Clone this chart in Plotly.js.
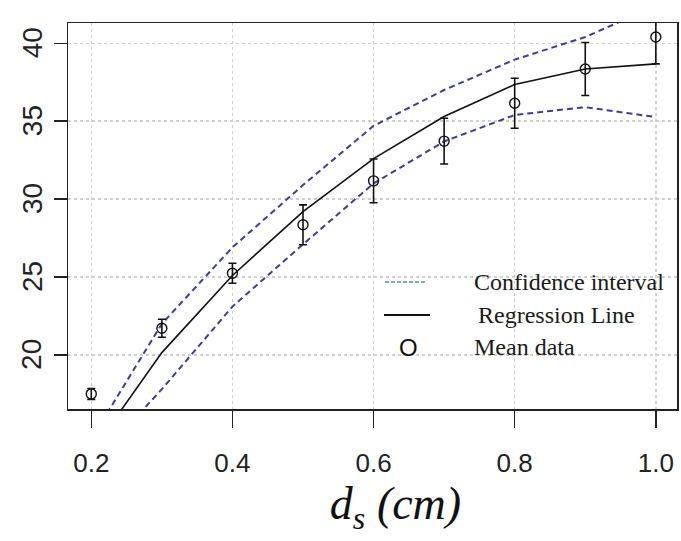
<!DOCTYPE html>
<html>
<head>
<meta charset="utf-8">
<script src="https://cdn.plot.ly/plotly-3.0.1.min.js"></script>
<style>
html,body{margin:0;padding:0;background:#fff;}
#chart{width:681px;height:541px;}
</style>
</head>
<body>
<div id="chart"></div>
<script>
// Data
var xs = [0.2, 0.3, 0.4, 0.5, 0.6, 0.7, 0.8, 0.9, 1.0];
var meanY = [17.5, 21.71, 25.24, 28.35, 31.17, 33.72, 36.15, 38.35, 40.4];
var errY = [0.35, 0.58, 0.64, 1.28, 1.4, 1.47, 1.6, 1.7, 1.72];
var regY = [13.75, 20.15, 25.1, 29.2, 32.6, 35.3, 37.35, 38.35, 38.68];
var upperY = [14.6, 22.0, 26.9, 30.9, 34.7, 37.0, 38.95, 40.4, 42.4];
var lowerY = [12.9, 17.8, 23.1, 27.1, 31.0, 33.7, 35.4, 35.9, 35.26];
var xTicks = [0.2, 0.4, 0.6, 0.8, 1.0];
var xTickText = ["0.2", "0.4", "0.6", "0.8", "1.0"];
var yTicks = [20, 25, 30, 35, 40];
var yTickText = ["20", "25", "30", "35", "40"];
var legendNames = ["Confidence interval", "Regression Line", "Mean data"];

var ciColor = "#3c3c9c";

var traces = [
  {x: xs, y: upperY, mode: "lines", name: legendNames[0],
   line: {color: ciColor, width: 2, dash: "6px,4px"}, showlegend: false},
  {x: xs, y: lowerY, mode: "lines", name: legendNames[0],
   line: {color: ciColor, width: 2, dash: "6px,4px"}, showlegend: false},
  {x: xs, y: regY, mode: "lines", name: legendNames[1],
   line: {color: "#111", width: 1.6}, showlegend: false},
  {x: xs, y: meanY, mode: "markers", name: legendNames[2],
   marker: {symbol: "circle-open", size: 10, color: "#111", line: {width: 1.4, color: "#111"}},
   error_y: {type: "data", array: errY, visible: true, color: "#111", thickness: 1.6, width: 4},
   showlegend: false, cliponaxis: true}
];

function px2x(p){ return (p - 68) / 609; }
function px2y(p){ return (409 - p) / 386; }

var legFont = {family: "Liberation Serif, Times New Roman, serif", size: 24, color: "#1a1a1a"};

// Rotated y tick labels (R style, reading bottom-to-top) placed at the y-axis tick values
var yLabelAnns = yTicks.map(function(v, i){
  return {xref: "paper", yref: "y", x: px2x(32), y: v, xanchor: "center", yanchor: "middle",
          text: yTickText[i], textangle: -90, showarrow: false,
          font: {family: "Liberation Sans, Arial, sans-serif", size: 28, color: "#222"}};
});

var layout = {
  width: 681, height: 541,
  margin: {l: 68, r: 4, t: 23, b: 132, pad: 0},
  paper_bgcolor: "#fff", plot_bgcolor: "#fff",
  showlegend: false,
  xaxis: {
    range: [0.167, 1.030],
    tickvals: xTicks, ticktext: xTickText,
    ticks: "outside", ticklen: 17, tickwidth: 1.5, tickcolor: "#222",
    ticklabelstandoff: 13,
    tickfont: {family: "Liberation Sans Narrow, Arial Narrow, Liberation Sans, Arial, sans-serif", size: 26, color: "#222"},
    showline: true, linecolor: "#222", linewidth: 1.5, mirror: true,
    showgrid: true, gridcolor: "#cfcfcf", gridwidth: 1.5, griddash: "dot",
    zeroline: false, automargin: false,
    title: {text: "&nbsp;&nbsp;&nbsp;&nbsp;<i>d<sub>s</sub> (cm)</i>",
            font: {family: "Liberation Serif, Times New Roman, serif", size: 46, color: "#111"},
            standoff: 10}
  },
  yaxis: {
    range: [16.53, 41.3],
    tickmode: "array", tickvals: yTicks, ticktext: yTickText,
    showticklabels: false,
    ticks: "outside", ticklen: 13, tickwidth: 1.5, tickcolor: "#222",
    showline: true, linecolor: "#222", linewidth: 1.5, mirror: true,
    showgrid: true, gridcolor: "#cfcfcf", gridwidth: 1.5, griddash: "dot",
    zeroline: false, automargin: false
  },
  shapes: [
    {type: "line", xref: "paper", yref: "paper", x0: px2x(385), x1: px2x(427), y0: px2y(282), y1: px2y(282),
     line: {color: "#5a86c0", width: 1.5, dash: "4px,2px"}},
    {type: "line", xref: "paper", yref: "paper", x0: px2x(384), x1: px2x(430), y0: px2y(315), y1: px2y(315),
     line: {color: "#111", width: 2}}
  ],
  annotations: yLabelAnns.concat([
    {xref: "paper", yref: "paper", x: px2x(472), y: px2y(282), xanchor: "left", yanchor: "middle",
     text: legendNames[0], showarrow: false, font: legFont},
    {xref: "paper", yref: "paper", x: px2x(476), y: px2y(315), xanchor: "left", yanchor: "middle",
     text: legendNames[1], showarrow: false, font: legFont},
    {xref: "paper", yref: "paper", x: px2x(408), y: px2y(347), xanchor: "center", yanchor: "middle",
     text: "O", showarrow: false, font: {family: "Liberation Sans, Arial, sans-serif", size: 24, color: "#111"}},
    {xref: "paper", yref: "paper", x: px2x(472), y: px2y(347), xanchor: "left", yanchor: "middle",
     text: legendNames[2], showarrow: false, font: legFont}
  ])
};

Plotly.newPlot("chart", traces, layout, {displayModeBar: false, staticPlot: true});
</script>
</body>
</html>
